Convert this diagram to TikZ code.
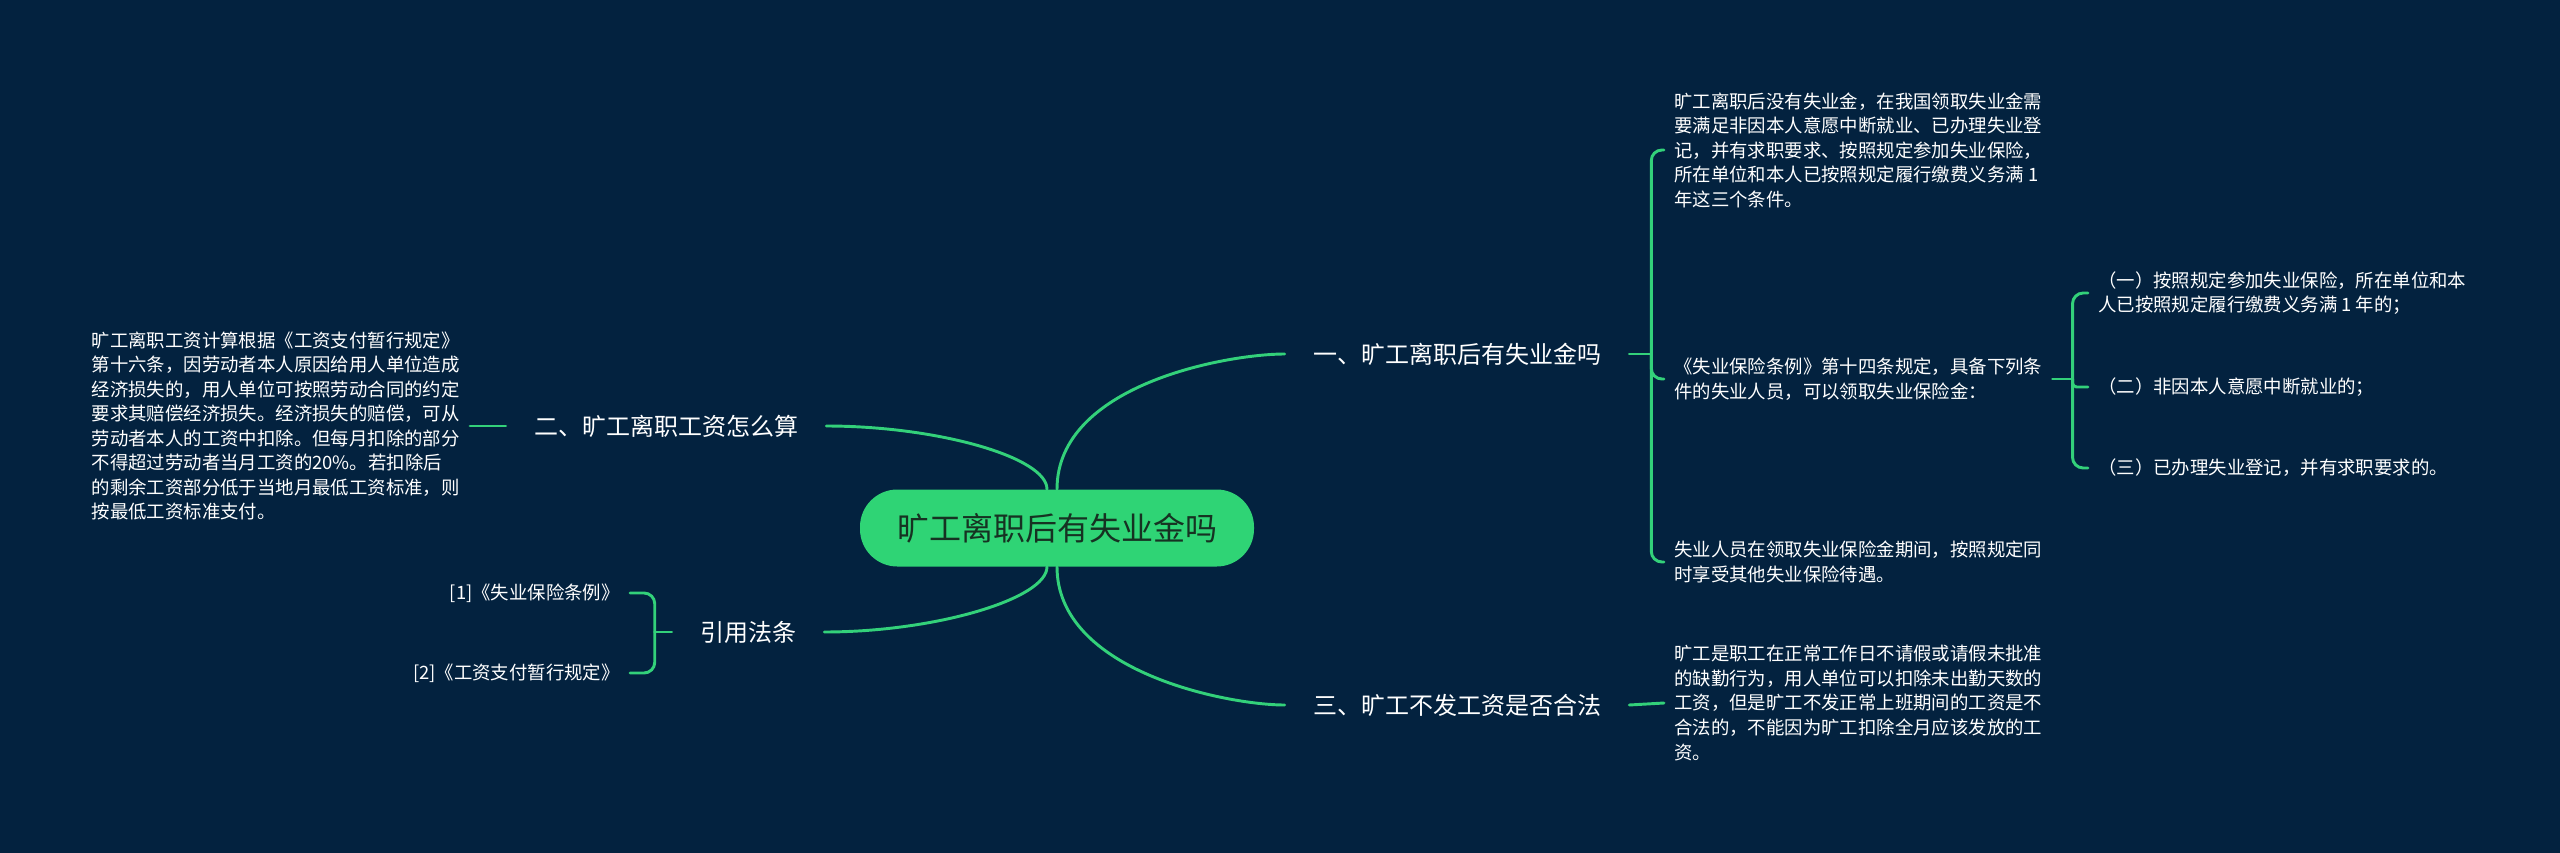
\documentclass[tikz,border=0pt]{standalone}
\usepackage{fontspec}
\setmainfont{Noto Sans CJK SC}
\definecolor{bgnavy}{HTML}{03223F}
\definecolor{mapgreen}{HTML}{33D17A}
\definecolor{rootfill}{HTML}{2FD475}
\definecolor{roottext}{HTML}{163222}
\begin{document}
\begin{tikzpicture}[x=0.75pt, y=-0.75pt,
  link/.style={draw=mapgreen, line width=2.2pt, line cap=round},
  fork/.style={link, rounded corners=8pt},
  topic/.style={text=white, font=\fontsize{18}{22}\selectfont, inner xsep=21pt, inner ysep=4pt},
  leaf/.style={text=white, font=\fontsize{13.8}{18.4}\selectfont, align=left, inner xsep=7.5pt, inner ysep=2pt}]
  \fill[bgnavy] (0,0) rectangle (2560,853);
  \useasboundingbox (0,0) rectangle (2560,853);
  % centre
  \node[fill=rootfill, text=roottext, rounded corners=28pt, minimum width=295.5pt, minimum height=57.75pt,
    font=\fontsize{24}{28}\selectfont] (root) at (1057,528) {旷工离职后有失业金吗};
  % main topics
  \node[topic] (b1) at (1457,354) {一、旷工离职后有失业金吗};
  \node[topic] (b2) at (666,426) {二、旷工离职工资怎么算};
  \node[topic] (b3) at (1457,705) {三、旷工不发工资是否合法};
  \node[topic] (b4) at (748,632) {引用法条};
  \draw[link] (root.north) .. controls +(0,-105) and +(-57,0) .. (b1.west);
  \draw[link] (root.south) .. controls +(0,105) and +(-57,0) .. (b3.west);
  \draw[link] ([xshift=-7.5pt]root.north) .. controls +(0,-32) and +(111,0) .. (b2.east);
  \draw[link] ([xshift=-7.5pt]root.south) .. controls +(0,32) and +(111,0) .. (b4.east);
  % branch one
  \node[leaf, anchor=west] (c11) at (1664,150) {旷工离职后没有失业金，在我国领取失业金需\\要满足非因本人意愿中断就业、已办理失业登\\记，并有求职要求、按照规定参加失业保险，\\所在单位和本人已按照规定履行缴费义务满 1\\年这三个条件。};
  \node[leaf, anchor=west] (c12) at (1664,379) {《失业保险条例》第十四条规定，具备下列条\\件的失业人员，可以领取失业保险金：};
  \node[leaf, anchor=west] (c13) at (1664,562) {失业人员在领取失业保险金期间，按照规定同\\时享受其他失业保险待遇。};
  \coordinate (f1) at ([xshift=16.5pt]b1.east);
  \draw[link] (b1.east) -- (f1);
  \draw[fork] (f1) |- (c11.west);
  \draw[fork] (f1) |- (c12.west);
  \draw[fork] (f1) |- (c13.west);
  \node[leaf, anchor=west] (s1) at (2088,293) {（一）按照规定参加失业保险，所在单位和本\\人已按照规定履行缴费义务满 1 年的；};
  \node[leaf, anchor=west] (s2) at (2088,387) {（二）非因本人意愿中断就业的；};
  \node[leaf, anchor=west] (s3) at (2088,468) {（三）已办理失业登记，并有求职要求的。};
  \coordinate (fs) at ([xshift=15pt]c12.east);
  \draw[link] (c12.east) -- (fs);
  \draw[fork] (fs) |- (s1.west);
  \draw[fork, rounded corners=3pt] (fs) |- (s2.west);
  \draw[fork] (fs) |- (s3.west);
  % branch two
  \node[leaf, anchor=east] (t2) at (470,426) {旷工离职工资计算根据《工资支付暂行规定》\\第十六条，因劳动者本人原因给用人单位造成\\经济损失的，用人单位可按照劳动合同的约定\\要求其赔偿经济损失。经济损失的赔偿，可从\\劳动者本人的工资中扣除。但每月扣除的部分\\不得超过劳动者当月工资的20\%。若扣除后\\的剩余工资部分低于当地月最低工资标准，则\\按最低工资标准支付。};
  \draw[link] (t2.east) -- (b2.west);
  % branch three
  \node[leaf, anchor=west] (c31) at (1664,703) {旷工是职工在正常工作日不请假或请假未批准\\的缺勤行为，用人单位可以扣除未出勤天数的\\工资，但是旷工不发正常上班期间的工资是不\\合法的，不能因为旷工扣除全月应该发放的工\\资。};
  \draw[link] (b3.east) -- (c31.west);
  % references
  \node[leaf, anchor=east] (r1) at (630,593) {[1]《失业保险条例》};
  \node[leaf, anchor=east] (r2) at (630,673) {[2]《工资支付暂行规定》};
  \coordinate (f4) at ([xshift=-12.75pt]b4.west);
  \draw[link] (b4.west) -- (f4);
  \draw[fork] (f4) |- (r1.east);
  \draw[fork] (f4) |- (r2.east);
\end{tikzpicture}
\end{document}
